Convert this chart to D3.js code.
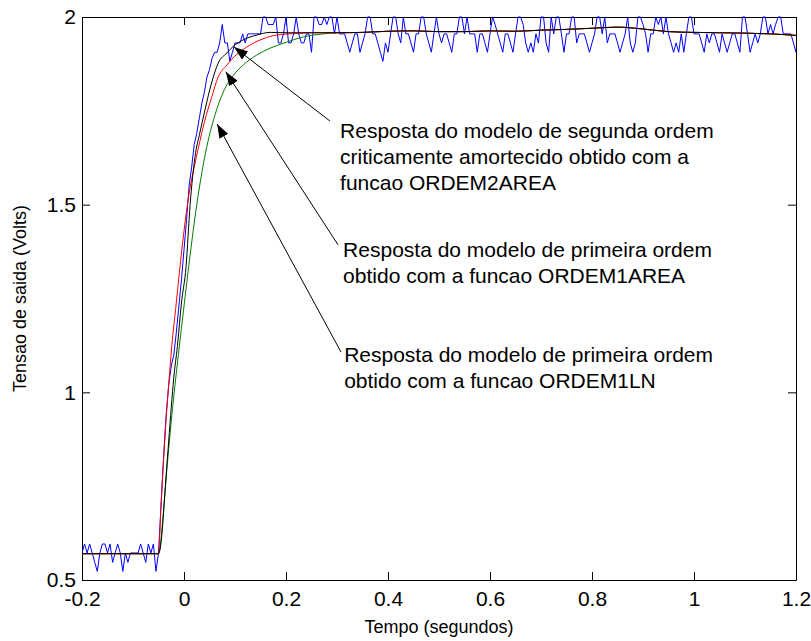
<!DOCTYPE html>
<html>
<head>
<meta charset="utf-8">
<script src="https://cdn.jsdelivr.net/npm/d3@7"></script>
<style>
  body { margin: 0; background: #fff; }
  text { font-family: "Liberation Sans", Arial, sans-serif; }
</style>
</head>
<body>
<svg width="811" height="641"></svg>
<script>
// sinal medido (azul), amostrado a cada 5 ms a partir de -0.2 s
const tempoInicial = -0.2
const passo = 0.005
const tensaoMedida = [
  0.572,0.596,0.572,0.596,0.572,0.547,0.523,0.572,0.596,0.596,
  0.572,0.596,0.547,0.572,0.596,0.572,0.523,0.572,0.547,0.572,
  0.572,0.572,0.572,0.596,0.572,0.547,0.596,0.572,0.596,0.523,
  0.572,
  0.70,0.83,0.94,1.02,1.07,1.10,1.16,1.23,1.30,1.38,
  1.46,1.55,1.60,1.66,1.69,1.73,1.77,1.80,1.84,1.86,
  1.89,1.906,1.906,1.931,1.980,1.931,1.931,1.882,1.906,1.931,
  1.931,
  1.931,1.955,1.931,1.955,1.955,1.955,1.955,1.955,1.955,2.000,
  2.000,1.980,1.980,1.980,2.000,1.931,1.931,1.955,2.000,1.931,
  1.931,1.955,2.000,1.955,1.931,1.931,1.955,1.955,1.906,2.000,
  2.000,1.980,1.980,2.000,1.980,2.000,2.000,1.955,2.000,1.955,
  1.955,1.955,1.931,1.906,1.931,1.955,1.955,1.906,1.931,1.955,
  2.000,2.000,1.955,1.955,1.931,1.906,1.882,1.931,1.906,1.955,
  2.000,2.000,1.955,1.931,2.000,1.955,1.955,1.931,1.906,1.955,
  1.955,2.000,2.000,1.955,1.931,1.906,1.955,2.000,1.955,1.931,
  1.955,1.955,1.931,1.906,1.955,1.955,2.000,2.000,1.955,2.000,
  1.955,1.955,1.955,1.906,1.955,1.955,1.931,1.906,1.955,2.000,
  1.980,1.955,1.931,1.906,1.955,1.955,1.931,1.906,1.955,2.000,
  2.000,1.980,1.931,1.906,1.931,1.906,1.955,1.931,2.000,2.000,
  1.931,1.906,2.000,1.955,2.000,2.000,1.955,1.906,1.955,1.955,
  2.000,2.000,1.931,1.955,1.955,1.955,1.931,1.906,1.931,1.955,
  2.000,2.000,1.955,2.000,1.931,1.955,1.955,1.955,1.931,1.906,
  1.931,1.955,2.000,1.931,1.906,1.931,2.000,2.000,1.980,1.955,
  1.906,1.955,1.955,2.000,1.980,2.000,1.955,2.000,1.955,1.931,
  1.906,1.931,1.906,1.955,1.906,1.955,2.000,2.000,1.955,1.955,
  1.955,1.931,1.906,1.955,1.931,1.955,1.955,1.931,1.906,1.955,
  1.931,1.906,1.931,1.955,1.955,1.931,1.906,2.000,2.000,1.955,
  1.906,1.931,1.955,1.931,1.955,2.000,2.000,1.955,1.980,1.955,
  1.980,2.000,2.000,1.955,1.955,1.955,1.955,1.931,1.906
]

// regime permanente comum aos tres modelos
const regimeT = [0.35,0.40,0.45,0.50,0.55,0.60,0.65,0.70,0.75,0.80,0.85,0.90,0.95,1.00,1.05,1.10,1.15,1.20]
const regimeV = [1.959,1.962,1.963,1.961,1.961,1.963,1.962,1.965,1.967,1.970,1.973,1.968,1.961,1.959,1.958,1.957,1.955,1.951]

// segunda ordem criticamente amortecido (preto)
const pretoT = [-0.2,-0.05,-0.045,-0.04,-0.035,-0.03,-0.025,-0.02,-0.013,-0.005,0.004,0.012,0.0216,0.031,0.041,0.054,0.067,0.084,0.096,0.116,0.143,0.169,0.2,0.25,0.3]
const pretoV = [0.570,0.570,0.60,0.68,0.78,0.87,0.96,1.04,1.122,1.238,1.335,1.50,1.628,1.691,1.752,1.824,1.877,1.904,1.921,1.939,1.952,1.959,1.958,1.958,1.958]

// primeira ordem ORDEM1AREA (vermelho)
const vermelhoT = [-0.2,-0.05,-0.045,-0.04,-0.035,-0.03,-0.024,-0.015,-0.009,0.0,0.01,0.02,0.028,0.04,0.054,0.067,0.084,0.103,0.123,0.155,0.182,0.22,0.25,0.3]
const vermelhoV = [0.570,0.570,0.70,0.82,0.93,1.02,1.122,1.24,1.32,1.43,1.53,1.60,1.65,1.72,1.785,1.840,1.872,1.900,1.920,1.942,1.952,1.956,1.958,1.958]

// primeira ordem ORDEM1LN (verde)
const verdeT = [-0.2,-0.05,-0.045,-0.04,-0.03,-0.02,-0.011,0.0,0.007,0.025,0.0425,0.061,0.077,0.097,0.116,0.143,0.169,0.201,0.234,0.273,0.3]
const verdeV = [0.570,0.570,0.61,0.69,0.85,0.99,1.10,1.23,1.31,1.50,1.64,1.74,1.80,1.845,1.872,1.899,1.917,1.933,1.947,1.955,1.958]

const xTicks = [-0.2,0,0.2,0.4,0.6,0.8,1,1.2]
const yTicks = [0.5,1,1.5,2]

const anotacoes = [
  { linhas: ['Resposta do modelo de segunda ordem', 'criticamente amortecido obtido com a', 'funcao ORDEM2AREA'],
    texto: [0.306, 1.696], cauda: [0.286, 1.723], ponta: [0.098, 1.920] },
  { linhas: ['Resposta do modelo de primeira ordem', 'obtido com a funcao ORDEM1AREA'],
    texto: [0.312, 1.379], cauda: [0.302, 1.393], ponta: [0.082, 1.854] },
  { linhas: ['Resposta do modelo de primeira ordem', 'obtido com a funcao ORDEM1LN'],
    texto: [0.314, 1.0995], cauda: [0.308, 1.107], ponta: [0.065, 1.715] }
]

const svg = d3.select('svg')
const margin = { top: 17, right: 15, bottom: 61, left: 82 }
const width = +svg.attr('width')
const height = +svg.attr('height')
const innerWidth = width - margin.left - margin.right
const innerHeight = height - margin.top - margin.bottom

svg.append('rect').attr('width', width).attr('height', height).attr('fill', '#fff')

const xScale = d3.scaleLinear().domain([-0.2, 1.2]).range([0, innerWidth])
const yScale = d3.scaleLinear().domain([0.5, 2]).range([innerHeight, 0])

const g = svg.append('g')
  .attr('transform', `translate(${margin.left}, ${margin.top})`)

// rotulos como no MATLAB: hifen simples, sem zeros a direita
const fmt = d => String(+d.toFixed(1))
const fontSize = 21
const labelSize = 18

const styleAxis = sel => {
  sel.selectAll('path, line').attr('stroke', '#000')
  sel.selectAll('text').attr('fill', '#000').attr('font-size', fontSize)
    .attr('font-family', '"Liberation Sans", Arial, sans-serif')
}

g.append('g').attr('transform', `translate(0, ${innerHeight})`)
  .call(d3.axisBottom(xScale).tickValues(xTicks).tickFormat(fmt).tickSizeInner(-8).tickSizeOuter(0).tickPadding(11))
  .call(styleAxis)
  .call(a => a.selectAll('text').attr('y', 26).attr('dy', null))
g.append('g')
  .call(d3.axisTop(xScale).tickValues(xTicks).tickFormat('').tickSizeInner(-8).tickSizeOuter(0))
  .call(styleAxis)
  .call(a => a.selectAll('text').remove())
g.append('g')
  .call(d3.axisLeft(yScale).tickValues(yTicks).tickFormat(fmt).tickSizeInner(-8).tickSizeOuter(0).tickPadding(6))
  .call(styleAxis)
g.append('g').attr('transform', `translate(${innerWidth}, 0)`)
  .call(d3.axisRight(yScale).tickValues(yTicks).tickFormat('').tickSizeInner(-8).tickSizeOuter(0))
  .call(styleAxis)
  .call(a => a.selectAll('text').remove())

svg.append('defs').append('clipPath').attr('id', 'area')
  .append('rect').attr('x', 0).attr('y', -1).attr('width', innerWidth).attr('height', innerHeight + 1)

const plot = g.append('g').attr('clip-path', 'url(#area)')

const medida = tensaoMedida.map((v, i) => [tempoInicial + i * passo, v])
plot.append('path').datum(medida)
  .attr('fill', 'none').attr('stroke', '#0000ff').attr('stroke-width', 1)
  .attr('d', d3.line().x(d => xScale(d[0])).y(d => yScale(d[1])))

const suave = d3.line().curve(d3.curveMonotoneX)
  .x(d => xScale(d[0])).y(d => yScale(d[1]))
const juntar = (ts, vs) => ts.map((t, i) => [t, vs[i]])
  .concat(regimeT.map((t, i) => [t, regimeV[i]]))

const modelos = [
  { pts: juntar(verdeT, verdeV), cor: '#008000' },
  { pts: juntar(vermelhoT, vermelhoV), cor: '#ff0000' },
  { pts: juntar(pretoT, pretoV), cor: '#000000' }
]
modelos.forEach(m => {
  plot.append('path').datum(m.pts)
    .attr('fill', 'none').attr('stroke', m.cor).attr('stroke-width', 1)
    .attr('d', suave)
})

// setas e textos
svg.select('defs').append('marker')
  .attr('id', 'seta').attr('viewBox', '0 0 14 10')
  .attr('refX', 14).attr('refY', 5)
  .attr('markerWidth', 14).attr('markerHeight', 10)
  .attr('markerUnits', 'userSpaceOnUse').attr('orient', 'auto')
  .append('path').attr('d', 'M0,0 L14,5 L0,10 Z').attr('fill', '#000')

anotacoes.forEach(a => {
  g.append('line')
    .attr('x1', xScale(a.cauda[0])).attr('y1', yScale(a.cauda[1]))
    .attr('x2', xScale(a.ponta[0])).attr('y2', yScale(a.ponta[1]))
    .attr('stroke', '#000').attr('stroke-width', 1)
    .attr('marker-end', 'url(#seta)')
  a.linhas.forEach((l, i) => {
    g.append('text')
      .attr('x', xScale(a.texto[0]))
      .attr('y', yScale(a.texto[1]) + i * 26)
      .attr('dy', '0.35em')
      .attr('font-size', fontSize).attr('fill', '#000')
      .text(l)
  })
})

svg.append('text')
  .attr('x', margin.left + xScale(0.5)).attr('y', 633)
  .attr('text-anchor', 'middle').attr('font-size', labelSize).attr('fill', '#000')
  .text('Tempo (segundos)')

svg.append('text')
  .attr('transform', `translate(26, ${margin.top + yScale(1.25)}) rotate(-90)`)
  .attr('text-anchor', 'middle').attr('font-size', labelSize).attr('fill', '#000')
  .text('Tensao de saida (Volts)')
</script>
</body>
</html>
